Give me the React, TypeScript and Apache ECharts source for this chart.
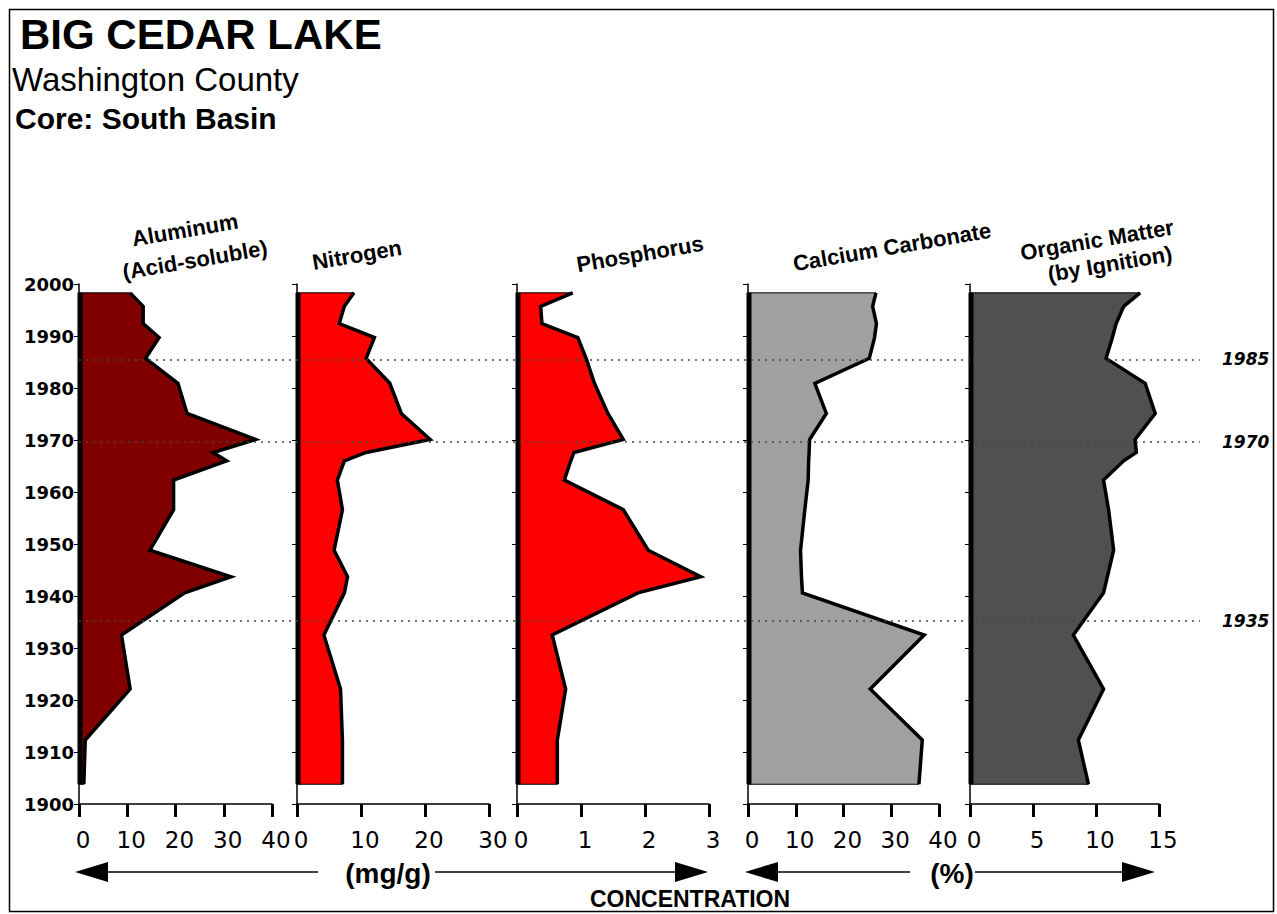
import React, { useEffect, useRef } from 'react';
import * as echarts from 'echarts';

// Sample horizons (year) shared by all profiles, top to bottom
const YEARS = [1998.3, 1995.7, 1992.4, 1989.7, 1985.7, 1980.9, 1975.1, 1970.1, 1967.6, 1966.0, 1962.3, 1956.6, 1948.8, 1943.7, 1940.6, 1932.5, 1922.1, 1912.3, 1903.8];
const ALUMINUM = [10.6, 13.3, 13.3, 16.6, 13.8, 20.5, 22.4, 36.6, 27.8, 30.6, 19.6, 19.6, 14.7, 31.5, 21.9, 8.8, 10.6, 1.3, 1.0];
const NITROGEN = [8.9, 7.4, 6.6, 12.1, 10.8, 14.5, 16.3, 20.8, 10.8, 7.4, 6.3, 7.1, 5.8, 7.9, 7.4, 4.2, 6.8, 7.1, 7.1];
const PHOSPHORUS = [0.87, 0.37, 0.39, 0.95, 1.08, 1.21, 1.42, 1.66, 0.89, 0.84, 0.74, 1.66, 2.05, 2.87, 1.89, 0.55, 0.76, 0.63, 0.63];
const CARBONATE = [26.8, 26.1, 26.9, 26.5, 25.4, 14.0, 16.4, 12.9, 12.8, 12.7, 12.6, 11.9, 11.0, 11.2, 11.4, 36.9, 25.6, 36.5, 35.8];
const ORGANIC = [13.5, 12.2, 11.6, 11.3, 10.8, 13.9, 14.7, 13.1, 13.2, 12.2, 10.6, 11.0, 11.4, 10.9, 10.6, 8.2, 10.6, 8.6, 9.4];

const PROFILES = [ALUMINUM, NITROGEN, PHOSPHORUS, CARBONATE, ORGANIC];
const X_MAX = [40, 30, 3, 40, 15];
const X_STEP = [10, 10, 1, 10, 5];
const Y_MIN = 1900;
const Y_MAX = 2000;
const Y_STEP = 10;

// Dated marker horizons
const REF_YEARS = [1985.5, 1969.6, 1935.2];
const REF_LABELS = ['1985', '1970', '1935'];

const TITLE = 'BIG CEDAR LAKE';
const SUBTITLE = 'Washington County';
const SUBTITLE2 = 'Core: South Basin';
const PANEL_TITLES = [['Aluminum', '(Acid-soluble)'], ['Nitrogen'], ['Phosphorus'], ['Calcium Carbonate'], ['Organic Matter', '(by Ignition)']];
const UNIT_LEFT = '(mg/g)';
const UNIT_RIGHT = '(%)';
const X_NAME = 'CONCENTRATION';

const COLORS = ['#800000', '#ff0000', '#ff0000', '#a0a0a0', '#505050'];
const GRID_LEFT = [79, 297, 517, 748, 970];
const GRID_WIDTH = [193, 192, 192, 191, 189];
const GRID_TOP = 284;
const GRID_HEIGHT = 520;

const makeRender = (vals: number[], color: string) => (params: any, api: any) => {
  if (params.dataIndex !== 0) return null;
  const pts = vals.map((v, i) => api.coord([v, YEARS[i]]));
  const top0 = api.coord([0, YEARS[0]]);
  const bot0 = api.coord([0, YEARS[YEARS.length - 1]]);
  return {
    type: 'group',
    children: [
      { type: 'polygon', shape: { points: [top0, ...pts, bot0] }, style: { fill: color, stroke: '#000', lineWidth: 1 } },
      { type: 'polyline', shape: { points: pts }, style: { fill: 'none', stroke: '#000', lineWidth: 3.5, lineJoin: 'miter' } },
      { type: 'line', shape: { x1: top0[0] + 1, y1: top0[1], x2: bot0[0] + 1, y2: bot0[1] }, style: { stroke: '#000', lineWidth: 5 } },
    ],
  };
};

export default function App() {
  const ref = useRef<HTMLDivElement>(null);
  useEffect(() => {
    document.body.style.margin = '0';
    const chart = echarts.init(ref.current!, null, { renderer: 'svg' });
    const grids: any[] = [];
    const xAxes: any[] = [];
    const yAxes: any[] = [];
    const series: any[] = [];
    PROFILES.forEach((vals, i) => {
      grids.push({ left: GRID_LEFT[i], width: GRID_WIDTH[i], top: GRID_TOP, height: GRID_HEIGHT });
      xAxes.push({
        gridIndex: i, type: 'value', min: 0, max: X_MAX[i], interval: X_STEP[i],
        axisLine: { show: true, onZero: false, lineStyle: { color: '#000', width: 1.5 } },
        axisTick: { show: true, inside: false, length: 13, lineStyle: { color: '#000', width: 3 } },
        axisLabel: { show: true, color: '#000', fontSize: 23, fontFamily: 'DejaVu Sans', align: 'center', padding: [0, 0, 0, 8], margin: 24, showMinLabel: true, showMaxLabel: true },
        splitLine: { show: false },
      });
      yAxes.push({
        gridIndex: i, type: 'value', min: Y_MIN, max: Y_MAX, interval: Y_STEP,
        axisLine: { show: true, onZero: false, lineStyle: { color: '#000', width: 1.5 } },
        axisTick: { show: true, inside: false, length: 5, lineStyle: { color: '#000', width: 1 } },
        axisLabel: { show: i === 0, color: '#000', fontSize: 18, fontWeight: 'bold', fontFamily: 'DejaVu Sans', margin: 5, formatter: (v: number) => String(v) },
        splitLine: { show: false },
      });
      series.push({
        type: 'custom', xAxisIndex: i, yAxisIndex: i, z: 3,
        data: YEARS.map((y, k) => [vals[k], y]),
        renderItem: makeRender(vals, COLORS[i]),
        silent: true,
      });
    });
    // overlay grid for dotted marker lines
    grids.push({ left: 79, width: 1121, top: GRID_TOP, height: GRID_HEIGHT });
    xAxes.push({ gridIndex: 5, type: 'value', min: 0, max: 1, show: false });
    yAxes.push({ gridIndex: 5, type: 'value', min: Y_MIN, max: Y_MAX, show: false });
    series.push({
      type: 'line', xAxisIndex: 5, yAxisIndex: 5, z: 1,
      data: [[0, 1950]], symbol: 'none', lineStyle: { opacity: 0 },
      markLine: {
        silent: true, symbol: ['none', 'none'],
        lineStyle: { type: [2, 5], color: '#444', width: 1.5 },
        label: {
          show: true, position: 'end', distance: 22, color: '#000', fontSize: 17, fontWeight: 'bold', fontStyle: 'italic', fontFamily: 'DejaVu Sans',
          formatter: (p: any) => REF_LABELS[p.dataIndex],
        },
        data: REF_YEARS.map((y) => ({ yAxis: y })),
      },
    });

    const titleText = (x: number, y: number, t: string) => ({
      type: 'text', x, y, rotation: 0.17, z: 10,
      style: { text: t, font: 'bold 22px "Liberation Sans"', fill: '#000', align: 'center', verticalAlign: 'middle', textAlign: 'center', textVerticalAlign: 'middle' },
    });
    const arrow = (x1: number, x2: number, headLeft: boolean) => {
      const y = 872;
      const hx = headLeft ? x1 : x2;
      const bx = headLeft ? x1 + 33 : x2 - 33;
      return [
        { type: 'line', shape: { x1: headLeft ? bx : x1, y1: y, x2: headLeft ? x2 : bx, y2: y }, style: { stroke: '#000', lineWidth: 1.5 } },
        { type: 'polygon', shape: { points: [[hx, y], [bx, y - 10], [bx, y + 10]] }, style: { fill: '#000' } },
      ];
    };

    const graphic: any[] = [
      { type: 'rect', shape: { x: 9.5, y: 9.5, width: 1264, height: 902 }, style: { fill: 'none', stroke: '#000', lineWidth: 1.5 }, z: 0 },
      { type: 'text', x: 20, y: 34, style: { text: TITLE, font: 'bold 42px "Liberation Sans"', fill: '#000', verticalAlign: 'middle', textVerticalAlign: 'middle' } },
      { type: 'text', x: 12, y: 79, style: { text: SUBTITLE, font: '33px "Liberation Sans"', fill: '#000', verticalAlign: 'middle', textVerticalAlign: 'middle' } },
      { type: 'text', x: 15, y: 118, style: { text: SUBTITLE2, font: 'bold 30px "Liberation Sans"', fill: '#000', verticalAlign: 'middle', textVerticalAlign: 'middle' } },
      titleText(185, 230, PANEL_TITLES[0][0]),
      titleText(195, 260, PANEL_TITLES[0][1]),
      titleText(357, 255, PANEL_TITLES[1][0]),
      titleText(640, 254, PANEL_TITLES[2][0]),
      titleText(892, 247, PANEL_TITLES[3][0]),
      titleText(1097, 240, PANEL_TITLES[4][0]),
      titleText(1110, 264, PANEL_TITLES[4][1]),
      ...arrow(75, 318, true),
      ...arrow(435, 708, false),
      ...arrow(745, 910, true),
      ...arrow(975, 1155, false),
      { type: 'text', x: 388, y: 873, style: { text: UNIT_LEFT, font: 'bold 28px "Liberation Sans"', fill: '#000', align: 'center', verticalAlign: 'middle', textAlign: 'center', textVerticalAlign: 'middle' } },
      { type: 'text', x: 952, y: 873, style: { text: UNIT_RIGHT, font: 'bold 28px "Liberation Sans"', fill: '#000', align: 'center', verticalAlign: 'middle', textAlign: 'center', textVerticalAlign: 'middle' } },
      { type: 'text', x: 690, y: 899, style: { text: X_NAME, font: 'bold 23px "Liberation Sans"', fill: '#000', align: 'center', verticalAlign: 'middle', textAlign: 'center', textVerticalAlign: 'middle' } },
    ];

    chart.setOption({
      animation: false,
      backgroundColor: '#fff',
      grid: grids,
      xAxis: xAxes,
      yAxis: yAxes,
      series,
      graphic,
    });
    return () => chart.dispose();
  }, []);
  return <div ref={ref} style={{ width: 1277, height: 914 }} />;
}
